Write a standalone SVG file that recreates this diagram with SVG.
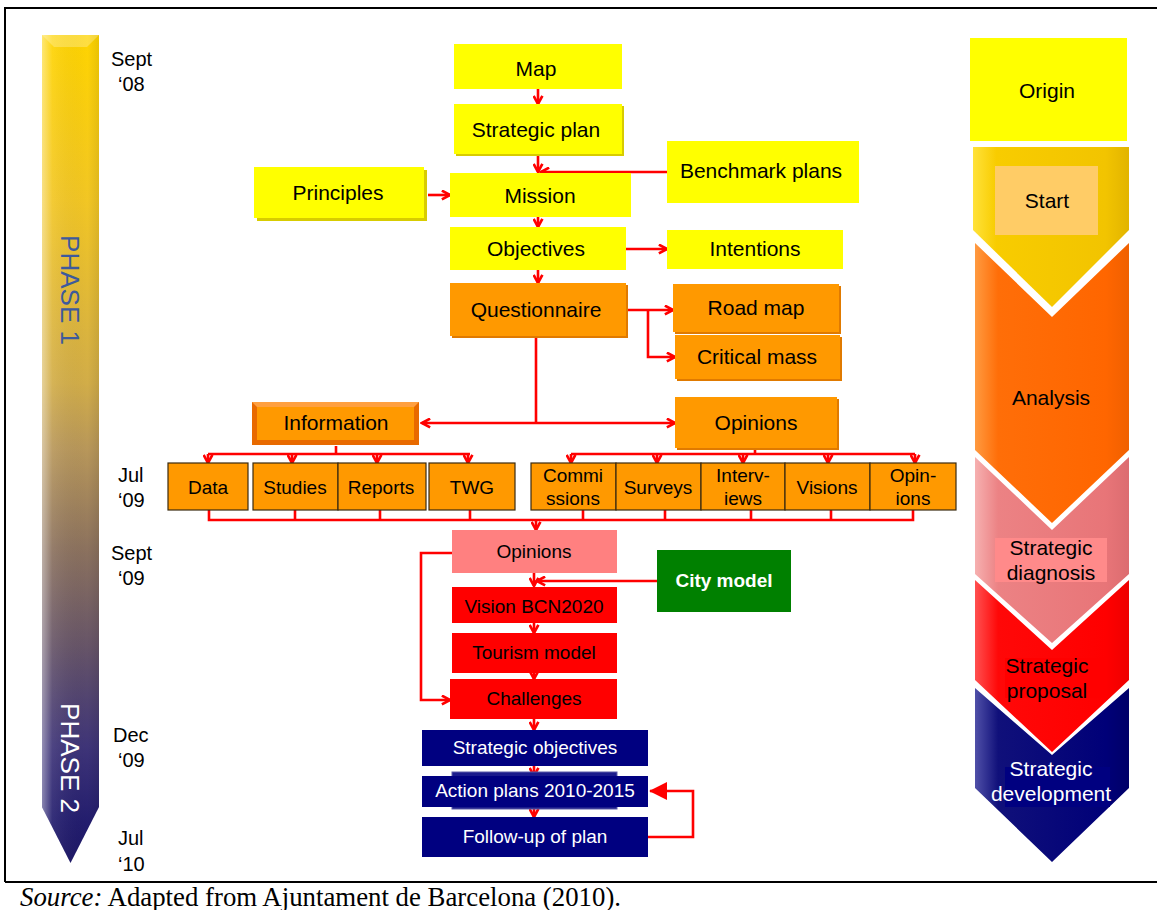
<svg xmlns="http://www.w3.org/2000/svg" width="1157" height="910" viewBox="0 0 1157 910">
  <style>
    .lbl { font-family: "Liberation Sans", Arial, sans-serif; fill: #000; }
    .n21 { font-size: 21px; text-anchor: middle; dominant-baseline: central; }
    .n19 { font-size: 19px; text-anchor: middle; dominant-baseline: central; }
    .date { font-family: "Liberation Sans", Arial, sans-serif; font-size: 20px; fill: #000; }
    .wht { fill: #fff; }
    .yel { fill: #FFFF00; }
    .yelsh { fill: #D8CC00; }
    .org { fill: #FF9900; }
    .orgsh { fill: #E07A00; }
    .cell { fill: #FF9900; stroke: #3a2a10; stroke-width: 1.2; }
    .pink { fill: #FF8080; }
    .red { fill: #FF0000; }
    .navy { fill: #000080; }
    .green { fill: #008000; }
    .conn { fill: none; stroke: #FF0000; stroke-width: 2.6; stroke-linejoin: miter; }
    .arr { marker-end: url(#vhead); }
  </style>
  <defs>
    <marker id="vhead" viewBox="0 0 10 10" refX="8.6" refY="5" markerWidth="11" markerHeight="11" markerUnits="userSpaceOnUse" orient="auto">
      <path d="M1.2,1 L8.6,5 L1.2,9" fill="none" stroke="#FF0000" stroke-width="2.4"/>
    </marker>
    <marker id="fhead" viewBox="0 0 10 10" refX="9.5" refY="5" markerWidth="18" markerHeight="18" markerUnits="userSpaceOnUse" orient="auto">
      <path d="M0,0 L10,5 L0,10 Z" fill="#FF0000"/>
    </marker>
    <linearGradient id="phaseV" x1="0" y1="35" x2="0" y2="863" gradientUnits="userSpaceOnUse">
      <stop offset="0" stop-color="#FFD400"/>
      <stop offset="0.2" stop-color="#F2C624"/>
      <stop offset="0.42" stop-color="#D2AD48"/>
      <stop offset="0.5" stop-color="#B8975A"/>
      <stop offset="0.62" stop-color="#8C725E"/>
      <stop offset="0.74" stop-color="#665468"/>
      <stop offset="0.86" stop-color="#3E3478"/>
      <stop offset="0.95" stop-color="#231D6E"/>
      <stop offset="1" stop-color="#1C1666"/>
    </linearGradient>
    <linearGradient id="sheen" x1="0" y1="0" x2="1" y2="0">
      <stop offset="0" stop-color="#fff" stop-opacity="0.45"/>
      <stop offset="0.18" stop-color="#fff" stop-opacity="0.08"/>
      <stop offset="0.8" stop-color="#000" stop-opacity="0"/>
      <stop offset="1" stop-color="#000" stop-opacity="0.08"/>
    </linearGradient>
    <linearGradient id="gStart" x1="0" y1="0" x2="1" y2="0">
      <stop offset="0" stop-color="#FFE23A"/>
      <stop offset="0.15" stop-color="#F8CC00"/>
      <stop offset="0.85" stop-color="#F2C400"/>
      <stop offset="1" stop-color="#E2B400"/>
    </linearGradient>
    <linearGradient id="gAnal" x1="0" y1="0" x2="1" y2="0">
      <stop offset="0" stop-color="#FF9A40"/>
      <stop offset="0.15" stop-color="#FF6E08"/>
      <stop offset="0.85" stop-color="#FF6600"/>
      <stop offset="1" stop-color="#F06000"/>
    </linearGradient>
    <linearGradient id="gDiag" x1="0" y1="0" x2="1" y2="0">
      <stop offset="0" stop-color="#F6B0B0"/>
      <stop offset="0.15" stop-color="#EC8284"/>
      <stop offset="0.85" stop-color="#E87578"/>
      <stop offset="1" stop-color="#DC6C70"/>
    </linearGradient>
    <linearGradient id="gProp" x1="0" y1="0" x2="1" y2="0">
      <stop offset="0" stop-color="#FF5050"/>
      <stop offset="0.15" stop-color="#FF0808"/>
      <stop offset="0.85" stop-color="#FF0000"/>
      <stop offset="1" stop-color="#EE0000"/>
    </linearGradient>
    <linearGradient id="gDev" x1="0" y1="0" x2="1" y2="0">
      <stop offset="0" stop-color="#5050A8"/>
      <stop offset="0.15" stop-color="#10107A"/>
      <stop offset="0.85" stop-color="#000078"/>
      <stop offset="1" stop-color="#000068"/>
    </linearGradient>
  </defs>

  <rect width="1157" height="910" fill="#fff"/>

  <!-- page frame -->
  <g id="frame" stroke="#000" stroke-width="2" fill="none">
    <path d="M5,882 V8 H1157"/>
    <path d="M5,882 H1157"/>
  </g>

  <!-- phase timeline arrow -->
  <g id="phase-bar">
    <path d="M42,35 H99 V807 L70.5,863 L42,807 Z" fill="url(#phaseV)"/>
    <path d="M42,35 H99 V807 L70.5,863 L42,807 Z" fill="url(#sheen)"/>
    <path d="M42,35 H99 L87,47 H54 Z" fill="#fff" fill-opacity="0.25"/>
    <text class="lbl" font-size="26" style="fill:#3D5A9C" text-anchor="middle" dominant-baseline="central" transform="translate(70,290) rotate(90)">PHASE 1</text>
    <text class="lbl" font-size="26" style="fill:#fff" text-anchor="middle" dominant-baseline="central" transform="translate(70,758) rotate(90)">PHASE 2</text>
  </g>

  <!-- dates -->
  <g id="dates">
    <text class="date" x="111" y="66">Sept</text>
    <text class="date" x="118" y="91">‘08</text>
    <text class="date" x="118" y="482">Jul</text>
    <text class="date" x="118" y="507">‘09</text>
    <text class="date" x="111" y="560">Sept</text>
    <text class="date" x="118" y="585">‘09</text>
    <text class="date" x="113" y="742">Dec</text>
    <text class="date" x="118" y="767">‘09</text>
    <text class="date" x="118" y="845">Jul</text>
    <text class="date" x="118" y="871">‘10</text>
  </g>

  <!-- stage chevrons -->
  <g id="origin">
    <rect x="970" y="38" width="157" height="103" class="yel"/>
    <text class="lbl n21" x="1047" y="90">Origin</text>
  </g>
  <g id="start">
    <path d="M973,147 H1129 V230 L1052,307 L973,230 Z" fill="url(#gStart)"/>
    <rect x="995" y="166" width="103" height="69" fill="#FFCC66"/>
    <text class="lbl n21" x="1047" y="200">Start</text>
  </g>
  <g id="analysis">
    <path d="M975,243 L1052,317 L1129,243 V450 L1052,523 L975,450 Z" fill="url(#gAnal)"/>
    <text class="lbl n21" x="1051" y="397">Analysis</text>
  </g>
  <g id="diagnosis">
    <path d="M975,457 L1052,530 L1129,457 V574 L1052,643 L975,574 Z" fill="url(#gDiag)"/>
    <rect x="995" y="538" width="112" height="44" fill="#FF8A8A"/>
    <text class="lbl n21" x="1051" y="547">Strategic</text>
    <text class="lbl n21" x="1051" y="572">diagnosis</text>
  </g>
  <g id="proposal">
    <path d="M975,580 L1052,650 L1129,580 V680 L1052,752 L975,680 Z" fill="url(#gProp)"/>
    <rect x="1005" y="658" width="102" height="40" fill="#FF0000"/>
    <text class="lbl n21" x="1047" y="665">Strategic</text>
    <text class="lbl n21" x="1047" y="690">proposal</text>
  </g>
  <g id="development">
    <path d="M975,688 L1052,755 L1129,688 V788 L1052,862 L975,788 Z" fill="url(#gDev)"/>
    <rect x="1005" y="767" width="105" height="40" fill="#000080"/>
    <text class="lbl n21 wht" x="1051" y="768">Strategic</text>
    <text class="lbl n21 wht" x="1051" y="793">development</text>
  </g>

  <!-- connectors -->
  <g id="connectors">
    <path class="conn arr" d="M538,89 V104"/>
    <path class="conn arr" d="M538,154 V172"/>
    <path class="conn arr" d="M667,172 H541"/>
    <path class="conn arr" d="M428,195 H450"/>
    <path class="conn arr" d="M538,217 V227"/>
    <path class="conn arr" d="M626,249 H667"/>
    <path class="conn arr" d="M538,270 V283"/>
    <path class="conn arr" d="M626,310 H673"/>
    <path class="conn arr" d="M648,310 V357 H675"/>
    <path class="conn" d="M536,336 V423"/>
    <path class="conn arr" d="M536,423 H422"/>
    <path class="conn arr" d="M536,423 H675"/>

    <path class="conn" d="M336,446 V454"/>
    <path class="conn" d="M208,454 H470"/>
    <path class="conn arr" d="M208,454 V463"/>
    <path class="conn arr" d="M292,454 V463"/>
    <path class="conn arr" d="M377,454 V463"/>
    <path class="conn arr" d="M468,454 V463"/>

    <path class="conn" d="M755,448 V454"/>
    <path class="conn" d="M571,454 H915"/>
    <path class="conn arr" d="M571,454 V463"/>
    <path class="conn arr" d="M657,454 V463"/>
    <path class="conn arr" d="M743,454 V463"/>
    <path class="conn arr" d="M828,454 V463"/>
    <path class="conn arr" d="M915,454 V463"/>

    <path class="conn" d="M209,510 V520 H913 V510 M295,510 V520 M380,510 V520 M470,510 V520 M583,510 V520 M665,510 V520 M751,510 V520 M831,510 V520"/>
    <path class="conn arr" d="M536,520 V530"/>

    <path class="conn arr" d="M534,573 V586"/>
    <path class="conn arr" d="M657,581 H537"/>
    <path class="conn arr" d="M452,553 H421 V700 H450"/>
    <path class="conn arr" d="M534,623 V633"/>
    <path class="conn arr" d="M534,673 V679"/>
    <path class="conn arr" d="M534,719 V730"/>
    <path class="conn arr" d="M534,766 V776"/>
    <path class="conn arr" d="M534,807 V817"/>
    <path class="conn" d="M648,837 H693 V791 H660" stroke-width="3.2"/>
    <path class="conn" d="M662,791 H650" stroke-width="3.2" marker-end="url(#fhead)"/>
  </g>

  <!-- upper flow: yellow nodes -->
  <g id="map">
    <rect x="454" y="44" width="168" height="45" class="yel"/>
    <text class="lbl n21" x="536" y="68">Map</text>
  </g>
  <g id="strategic-plan">
    <rect x="456" y="106" width="168" height="50" class="yelsh"/>
    <rect x="454" y="104" width="168" height="50" class="yel"/>
    <text class="lbl n21" x="536" y="129">Strategic plan</text>
  </g>
  <g id="benchmark-plans">
    <rect x="667" y="141" width="192" height="62" class="yel"/>
    <text class="lbl n21" x="761" y="170">Benchmark plans</text>
  </g>
  <g id="principles">
    <rect x="257" y="170" width="170" height="51" class="yelsh"/>
    <rect x="254" y="167" width="170" height="51" class="yel"/>
    <text class="lbl n21" x="338" y="192">Principles</text>
  </g>
  <g id="mission">
    <rect x="450" y="173" width="181" height="44" class="yel"/>
    <text class="lbl n21" x="540" y="195">Mission</text>
  </g>
  <g id="objectives">
    <rect x="450" y="227" width="176" height="43" class="yel"/>
    <text class="lbl n21" x="536" y="248">Objectives</text>
  </g>
  <g id="intentions">
    <rect x="667" y="230" width="176" height="39" class="yel"/>
    <text class="lbl n21" x="755" y="248">Intentions</text>
  </g>

  <!-- orange nodes -->
  <g id="questionnaire">
    <rect x="452" y="285" width="176" height="53" class="orgsh"/>
    <rect x="450" y="283" width="176" height="53" class="org"/>
    <text class="lbl n21" x="536" y="309">Questionnaire</text>
  </g>
  <g id="road-map">
    <rect x="675" y="286" width="166" height="48" class="orgsh"/>
    <rect x="673" y="284" width="166" height="48" class="org"/>
    <text class="lbl n21" x="756" y="307">Road map</text>
  </g>
  <g id="critical-mass">
    <rect x="677" y="337" width="165" height="44" class="orgsh"/>
    <rect x="675" y="335" width="165" height="44" class="org"/>
    <text class="lbl n21" x="757" y="356">Critical mass</text>
  </g>
  <g id="information">
    <rect x="252" y="402" width="167" height="43" fill="#E86A00"/>
    <path d="M252,402 H419 L414,407 H257 Z" fill="#FFA040"/>
    <rect x="257" y="407" width="157" height="33" class="org"/>
    <text class="lbl n21" x="336" y="422">Information</text>
  </g>
  <g id="opinions">
    <rect x="677" y="399" width="162" height="51" class="orgsh"/>
    <rect x="675" y="397" width="162" height="51" class="org"/>
    <text class="lbl n21" x="756" y="422">Opinions</text>
  </g>

  <!-- information sources -->
  <g id="data">
    <rect x="168" y="463" width="80" height="47" class="cell"/>
    <text class="lbl n19" x="208" y="487">Data</text>
  </g>
  <g id="studies">
    <rect x="253" y="463" width="85" height="47" class="cell"/>
    <text class="lbl n19" x="295" y="487">Studies</text>
  </g>
  <g id="reports">
    <rect x="338" y="463" width="88" height="47" class="cell"/>
    <text class="lbl n19" x="381" y="487">Reports</text>
  </g>
  <g id="twg">
    <rect x="429" y="463" width="86" height="47" class="cell"/>
    <text class="lbl n19" x="472" y="487">TWG</text>
  </g>

  <!-- opinion sources -->
  <g id="commissions">
    <rect x="531" y="463" width="85" height="47" class="cell"/>
    <text class="lbl n19" x="573" y="475">Commi</text>
    <text class="lbl n19" x="573" y="498">ssions</text>
  </g>
  <g id="surveys">
    <rect x="616" y="463" width="85" height="47" class="cell"/>
    <text class="lbl n19" x="658" y="487">Surveys</text>
  </g>
  <g id="interviews">
    <rect x="701" y="463" width="84" height="47" class="cell"/>
    <text class="lbl n19" x="743" y="475">Interv-</text>
    <text class="lbl n19" x="743" y="498">iews</text>
  </g>
  <g id="visions">
    <rect x="785" y="463" width="85" height="47" class="cell"/>
    <text class="lbl n19" x="827" y="487">Visions</text>
  </g>
  <g id="opinions-source">
    <rect x="870" y="463" width="86" height="47" class="cell"/>
    <text class="lbl n19" x="913" y="475">Opin-</text>
    <text class="lbl n19" x="913" y="498">ions</text>
  </g>

  <!-- proposal phase -->
  <g id="opinions-summary">
    <rect x="452" y="530" width="165" height="43" class="pink"/>
    <text class="lbl n19" x="534" y="551">Opinions</text>
  </g>
  <g id="city-model">
    <rect x="657" y="550" width="134" height="62" class="green"/>
    <text class="lbl n19 wht" x="724" y="580" font-weight="bold">City model</text>
  </g>
  <g id="vision-bcn2020">
    <rect x="452" y="587" width="165" height="36" class="red"/>
    <text class="lbl n19" x="534" y="606">Vision BCN2020</text>
  </g>
  <g id="tourism-model">
    <rect x="452" y="633" width="165" height="40" class="red"/>
    <text class="lbl n19" x="534" y="652">Tourism model</text>
  </g>
  <g id="challenges">
    <rect x="450" y="679" width="167" height="40" class="red"/>
    <text class="lbl n19" x="534" y="698">Challenges</text>
  </g>

  <!-- development phase -->
  <g id="strategic-objectives">
    <rect x="422" y="730" width="226" height="36" class="navy"/>
    <text class="lbl n19 wht" x="535" y="747">Strategic objectives</text>
  </g>
  <g id="action-plans">
    <rect x="452" y="772" width="165" height="37" fill="#1A1A8C" stroke="#5A5AA8" stroke-width="1"/>
    <rect x="422" y="776" width="226" height="31" class="navy"/>
    <text class="lbl n19 wht" x="535" y="790">Action plans 2010-2015</text>
  </g>
  <g id="follow-up">
    <rect x="422" y="817" width="226" height="40" class="navy"/>
    <text class="lbl n19 wht" x="535" y="836">Follow-up of plan</text>
  </g>

  <!-- caption -->
  <text x="20" y="906" font-family="Liberation Serif, 'Times New Roman', serif" font-size="26.8" fill="#000"><tspan font-style="italic">Source:</tspan> Adapted from Ajuntament de Barcelona (2010).</text>
</svg>
